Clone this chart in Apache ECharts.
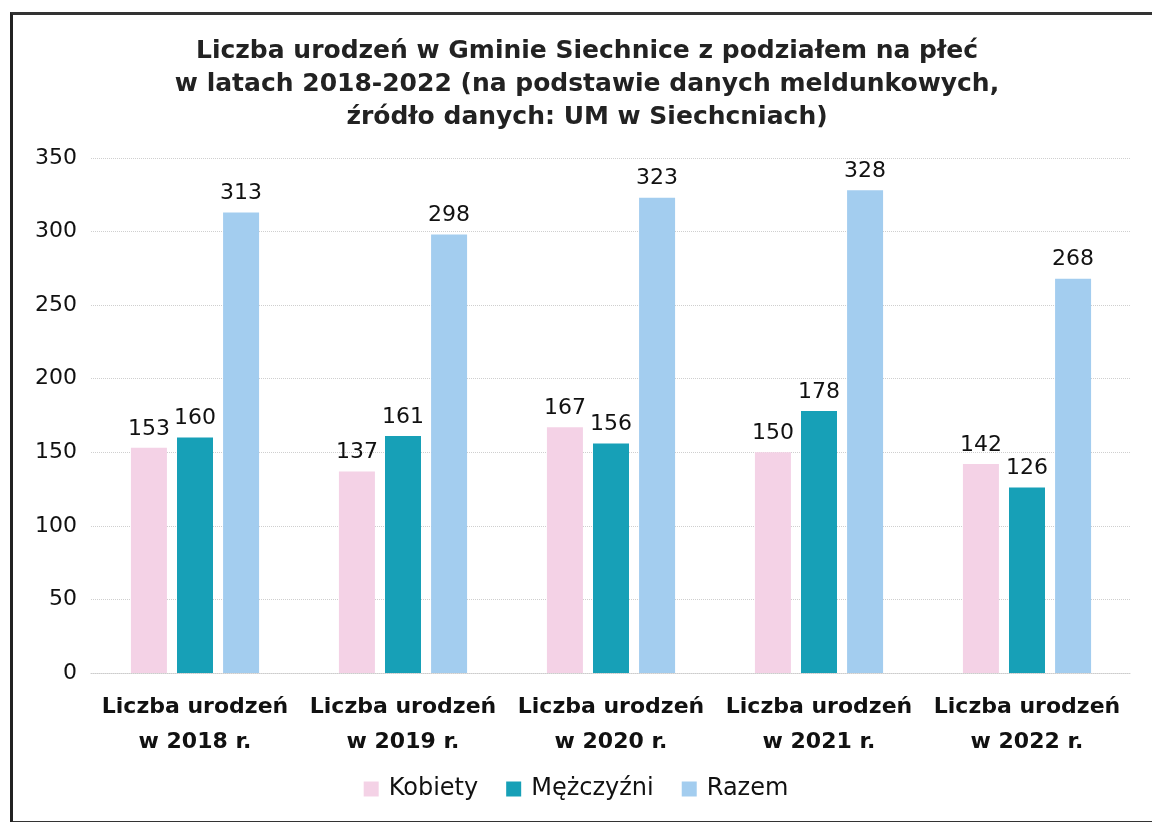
<!DOCTYPE html>
<html>
<head>
    <meta charset="utf-8">
    <title>Liczba urodzeń</title>
    <script src="https://cdn.jsdelivr.net/npm/echarts@6/dist/echarts.min.js"></script>
    <style>
        html, body { margin: 0; padding: 0; background: #fff; }
        #ramka {
            position: absolute; left: 10px; top: 12px; width: 1142px; height: 806px;
            border-left: 3px solid #222; border-top: 3px solid #333; border-bottom: 3px solid #333;
        }
        #wykres { position: absolute; left: 0; top: 0; width: 1152px; height: 822px; }
    </style>
</head>
<body>
<div id="ramka"></div>
<div id="wykres"></div>
<script>
    // dane z wykresu
    var lata = ['Liczba urodzeń\nw 2018 r.', 'Liczba urodzeń\nw 2019 r.', 'Liczba urodzeń\nw 2020 r.', 'Liczba urodzeń\nw 2021 r.', 'Liczba urodzeń\nw 2022 r.'];
    var kobiety = [153, 137, 167, 150, 142];
    var mezczyzni = [160, 161, 156, 178, 126];
    var razem = [313, 298, 323, 328, 268];

    var font = 'Verdana, "DejaVu Sans", sans-serif';
    var myChart = echarts.init(document.getElementById('wykres'));

    function seria(nazwa, dane, kolor) {
        return {
            name: nazwa,
            type: 'bar',
            data: dane,
            barWidth: 36,
            barGap: '28%',
            itemStyle: { color: kolor },
            label: {
                show: true,
                position: 'top',
                distance: 8,
                color: '#111',
                fontFamily: font,
                fontSize: 22
            }
        };
    }

    var option = {
        backgroundColor: 'transparent',
        animation: false,
        title: {
            text: 'Liczba urodzeń w Gminie Siechnice z podziałem na płeć\nw latach 2018-2022 (na podstawie danych meldunkowych,\nźródło danych: UM w Siechcniach)',
            left: 582,
            textAlign: 'center',
            top: 30,
            textStyle: {
                fontFamily: '"DejaVu Sans", sans-serif',
                fontWeight: 'bold',
                fontSize: 25,
                lineHeight: 33,
                color: '#222'
            }
        },
        legend: {
            bottom: 16,
            left: 'center',
            itemWidth: 15,
            itemHeight: 15,
            itemGap: 28,
            icon: 'rect',
            textStyle: { fontFamily: font, fontSize: 24, color: '#111', padding: [0, 0, 0, 5] },
            data: ['Kobiety', 'Mężczyźni', 'Razem']
        },
        grid: { left: 91, right: 21, top: 158, bottom: 149 },
        xAxis: {
            type: 'category',
            data: lata,
            axisLine: { lineStyle: { color: '#ccc', type: 'dotted' } },
            axisTick: { show: false },
            axisLabel: {
                interval: 0,
                margin: 17,
                fontFamily: font,
                fontWeight: 'bold',
                fontSize: 22,
                lineHeight: 35,
                color: '#111'
            }
        },
        yAxis: {
            type: 'value',
            min: 0,
            max: 350,
            interval: 50,
            axisLine: { show: false },
            axisTick: { show: false },
            axisLabel: { fontFamily: font, fontSize: 22, color: '#111', margin: 14 },
            splitLine: { lineStyle: { color: '#cfcfcf', type: 'dotted' } }
        },
        series: [
            seria('Kobiety', kobiety, '#f4d2e6'),
            seria('Mężczyźni', mezczyzni, '#17a0b7'),
            seria('Razem', razem, '#a3cdef')
        ]
    };

    myChart.setOption(option);
</script>
</body>
</html>
